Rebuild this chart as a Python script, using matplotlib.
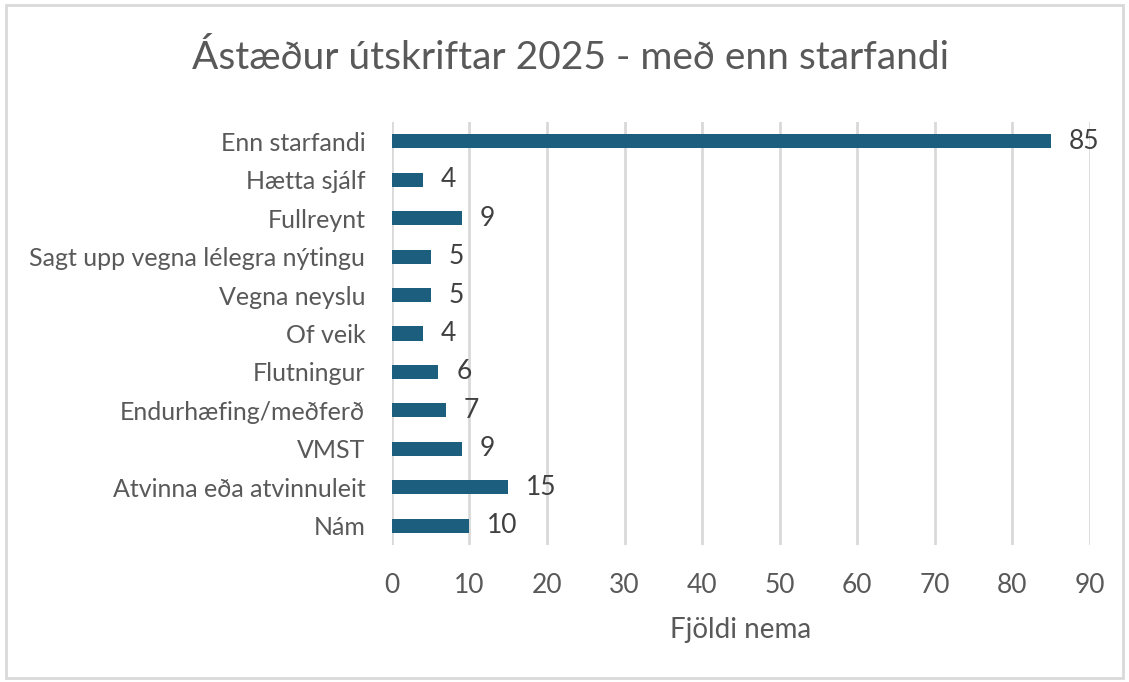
import matplotlib
matplotlib.use("Agg")
import matplotlib.pyplot as plt
from matplotlib.patches import Rectangle

categories = ["Enn starfandi", "Hætta sjálf", "Fullreynt", "Sagt upp vegna lélegra nýtingu",
              "Vegna neyslu", "Of veik", "Flutningur", "Endurhæfing/meðferð", "VMST",
              "Atvinna eða atvinnuleit", "Nám"]
values = [85, 4, 9, 5, 5, 4, 6, 7, 9, 15, 10]
xticks = [0, 10, 20, 30, 40, 50, 60, 70, 80, 90]

plt.rcParams['font.family'] = ['Lato', 'DejaVu Sans']
grey = "#595959"
barcol = "#1B5E7E"

fig = plt.figure(figsize=(11.29, 6.82), dpi=100)
ax = fig.add_axes([0.347, 0.201, 0.6185, 0.62])

y = list(range(len(categories)))
ax.barh(y, values, height=0.37, color=barcol, zorder=3)
for yi, v in zip(y, values):
    ax.text(v + 2.3, yi, str(v), va="center", ha="left", fontsize=19, color="#404040")

ax.set_yticks(y)
ax.set_yticklabels(categories)
ax.set_ylim(len(categories) - 0.5, -0.5)
ax.set_xlim(0, 90)
ax.set_xticks(xticks)
ax.grid(axis="x", color="#D9D9D9", linewidth=2, zorder=0)
for s in ax.spines.values():
    s.set_visible(False)
ax.tick_params(axis="y", length=0, labelsize=18, colors=grey, pad=19)
ax.tick_params(axis="x", length=0, labelsize=19, colors=grey, pad=20)
ax.set_xlabel("Fjöldi nema", fontsize=20, color=grey, labelpad=14)

fig.text(0.505, 0.915, "Ástæður útskriftar 2025 - með enn starfandi", ha="center", va="center",
         fontsize=28, color=grey)

fig.patches.append(Rectangle((0.005, 0.006), 0.99, 0.987, transform=fig.transFigure,
                             fill=False, edgecolor="#D9D9D9", linewidth=2))

fig.savefig("out.png", dpi=100)
